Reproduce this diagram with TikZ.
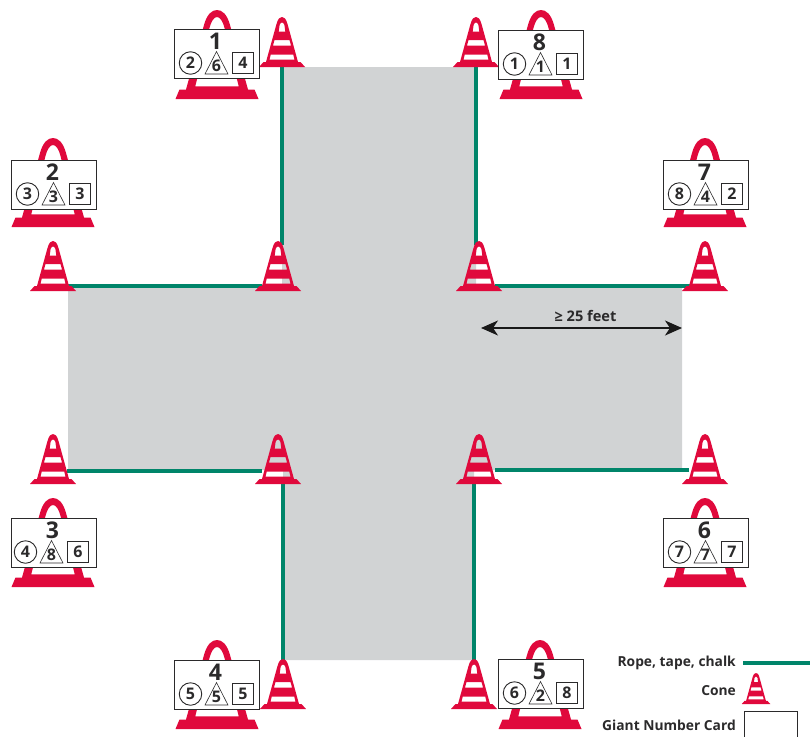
\documentclass[tikz,border=0pt]{standalone}
\usepackage{fontspec}
\usetikzlibrary{arrows.meta}
\setmainfont{Open Sans}
\definecolor{conered}{HTML}{E0093C}
\definecolor{ropegreen}{HTML}{00856A}
\definecolor{floorgray}{HTML}{D1D3D4}
\definecolor{inkdark}{HTML}{2B2A2B}
\tikzset{
  rope/.style={draw=ropegreen,line width=3.2pt},
  conefill/.style={fill=conered,even odd rule},
  cardbox/.style={draw=inkdark,fill=white,line width=0.9pt},
  marktext/.style={inner sep=0pt,font=\fontsize{16}{16}\selectfont\bfseries,text=inkdark},
  bignum/.style={inner sep=0pt,font=\fontsize{23}{23}\selectfont\bfseries,text=inkdark},
  legendtext/.style={anchor=east,inner sep=0pt,font=\fontsize{13.8}{14}\selectfont\bfseries,text=inkdark},
  cone/.pic={
    \path[conefill]
      (-23,0) -- (23,0) -- (18.5,-5) -- (16,-5) -- (5.5,-43)
      .. controls (4,-48.5) and (2,-50) .. (0,-50)
      .. controls (-2,-50) and (-4,-48.5) .. (-5.5,-43)
      -- (-16,-5) -- (-18.5,-5) -- cycle
      (-3.3,-35.5) -- (3.3,-35.5) -- (2.4,-42)
      .. controls (2,-43.5) and (1,-44.5) .. (0,-44.5)
      .. controls (-1,-44.5) and (-2,-43.5) .. (-2.4,-42) -- cycle
      (-9,-21.5) -- (9,-21.5) -- (7.5,-27) -- (-7.5,-27) -- cycle
      (-12.5,-7.5) -- (12.5,-7.5) -- (11.2,-12.5) -- (-11.2,-12.5) -- cycle;
  },
  bigcone/.pic={
    \path[conefill]
      (-41.5,0) -- (41.5,0) -- (37.5,-9.5) -- (31,-9.5) -- (13,-74)
      .. controls (10,-85) and (5,-89) .. (0,-89)
      .. controls (-5,-89) and (-10,-85) .. (-13,-74)
      -- (-31,-9.5) -- (-37.5,-9.5) -- cycle
      (-21.7,-12.7) -- (21.7,-12.7) -- (8.3,-68)
      .. controls (6,-78) and (3,-82) .. (0,-82)
      .. controls (-3,-82) and (-6,-78) .. (-8.3,-68) -- cycle;
  }
}
\newcommand{\mytri}{}
\newcommand{\mx}{0}
\newcommand{\giantcard}[8]{%
  \pic at (#2,#3) {bigcone};
  \node[cardbox,minimum width=84.5pt,minimum height=48.5pt,inner sep=0pt,anchor=north west] (card#1) at (#4,#5) {};
  \node[bignum] (num#1) at ([shift={(41.5,12.5)}]card#1.north west) {#6};
  \node[circle,draw=inkdark,line width=0.9pt,minimum size=22.5pt,inner sep=0pt] (circ#1) at ([shift={(16.5+\mx,34)}]card#1.north west) {};
  \node[marktext] at (circ#1) {#7};
  \coordinate (tri#1) at ([shift={(42.5+\mx,34)}]card#1.north west);
  \draw[draw=inkdark,line width=0.6pt,line join=miter] ([shift={(0,-11.5)}]tri#1) -- ([shift={(11.5,11)}]tri#1) -- ([shift={(-11.5,11)}]tri#1) -- cycle;
  \node[marktext] at ([shift={(0,3)}]tri#1) {\mytri};
  \node[draw=inkdark,line width=0.9pt,minimum size=20.5pt,inner sep=0pt] (sq#1) at ([shift={(69+\mx,34)}]card#1.north west) {};
  \node[marktext] at (sq#1) {#8};
}
\newcommand{\gcard}[9]{\renewcommand{\mytri}{#8}\giantcard{#1}{#2}{#3}{#4}{#5}{#6}{#7}{#9}}
\begin{document}
\begin{tikzpicture}[x=1pt,y=-1pt]
\useasboundingbox (0,0) rectangle (810,736);
\clip (0,0) rectangle (810,736);
\fill[floorgray] (282,67) -- (476,67) -- (476,286) -- (682,286) -- (682,470) -- (474,470) -- (474,660) -- (283,660) -- (283,470) -- (68,470) -- (68,286) -- (282,286) -- cycle;
\coordinate (c1) at (282,67);
\coordinate (c2) at (476,67);
\coordinate (c3) at (53,291);
\coordinate (c4) at (278,291);
\coordinate (c5) at (479,291);
\coordinate (c6) at (705,291);
\coordinate (c7) at (53,484);
\coordinate (c8) at (278,484);
\coordinate (c9) at (479,484);
\coordinate (c10) at (705,484);
\coordinate (c11) at (283,709);
\coordinate (c12) at (474,709);
\draw[rope] (282,65) -- (282,245);
\draw[rope] (66,286) -- (262,286);
\draw[rope] (476,65) -- (476,245);
\draw[rope] (495,286) -- (690,286);
\draw[rope] (67,471) -- (262,471);
\draw[rope] (283,480) -- (283,662);
\draw[rope] (495,470) -- (689,470);
\draw[rope] (474,480) -- (474,662);
\foreach \c in {c1,c2,c3,c4,c5,c6,c7,c8,c9,c10,c11,c12} \pic at (\c) {cone};
\gcard{1}{217}{99}{174}{29}{1}{2}{6}{4}
\gcard{2}{53}{227}{11}{160}{2}{3}{3}{3}
\renewcommand{\mx}{-2}
\gcard{3}{53}{587}{11}{518}{3}{4}{8}{6}
\renewcommand{\mx}{0}
\gcard{4}{217}{729}{174}{660}{4}{5}{5}{5}
\gcard{5}{540}{729}{498}{659}{5}{6}{2}{8}
\gcard{6}{705}{587}{663}{518}{6}{7}{7}{7}
\gcard{7}{705}{227}{663}{160}{7}{8}{4}{2}
\gcard{8}{541}{99}{498}{30}{8}{1}{1}{1}
\coordinate (dimL) at (481,328);
\coordinate (dimR) at (682,328);
\draw[line width=1.8pt,draw=black!90,{Stealth[length=17pt,width=15pt,inset=5pt]}-{Stealth[length=17pt,width=15pt,inset=5pt]}] (dimL) -- (dimR);
\node[inner sep=0pt,font=\fontsize{14.6}{15}\selectfont\bfseries,text=inkdark] (dimtext) at (585.5,316) {≥ 25 feet};
\node[legendtext] (lgrope) at (736,663) {Rope, tape, chalk};
\coordinate (lgropeend) at (810,663);
\draw[rope] ([xshift=7pt]lgrope.east) -- (lgropeend);
\node[legendtext] (lgcone) at (736,691) {Cone};
\pic[scale=0.62] at (756,704) {cone};
\node[legendtext] (lgcard) at (736,725) {Giant Number Card};
\node[draw=inkdark,fill=white,line width=0.9pt,minimum width=53pt,minimum height=50pt,anchor=north west,inner sep=0pt] (lgbox) at (744,711) {};
\end{tikzpicture}
\end{document}
